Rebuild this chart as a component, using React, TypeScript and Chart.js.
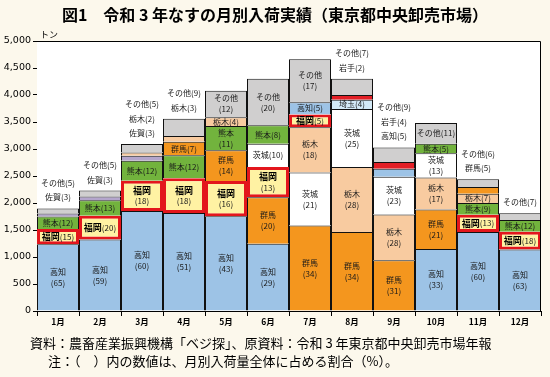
import React, { useEffect, useRef } from "react";
import { Chart, registerables } from "chart.js";

Chart.register(...registerables);

// ---- data (tonnes) ----
const months = ["1月", "2月", "3月", "4月", "5月", "6月", "7月", "8月", "9月", "10月", "11月", "12月"];
const kochi = [1235, 1322, 1854, 1816, 1754, 1247, 230, 0, 152, 1148, 1464, 1140];
const fukuoka = [285, 440, 556, 641, 653, 559, 236, 0, 0, 0, 317, 326];
const kumamoto = [228, 290, 371, 427, 449, 344, 0, 0, 0, 174, 220, 217];
const gunma = [0, 0, 0, 249, 571, 860, 1584, 1462, 939, 731, 122, 0];
const tochigi = [0, 0, 62, 107, 163, 0, 839, 1204, 848, 592, 171, 0];
const ibaraki = [0, 0, 0, 0, 0, 430, 979, 1075, 697, 452, 0, 0];
const saga = [57, 67, 93, 0, 0, 0, 0, 0, 0, 0, 0, 0];
const saitama = [0, 0, 0, 0, 0, 0, 0, 172, 0, 0, 0, 0];
const iwate = [0, 0, 0, 0, 0, 0, 0, 86, 121, 0, 0, 0];
const others = [95, 111, 155, 320, 490, 860, 792, 301, 273, 383, 146, 127];

// labels written above the bar (top to bottom)
const aboveLabels = [
  ["その他", "佐賀"],
  ["その他", "佐賀"],
  ["その他", "栃木", "佐賀"],
  ["その他", "栃木"],
  [],
  [],
  [],
  ["その他", "岩手"],
  ["その他", "岩手", "高知"],
  [],
  ["その他", "群馬"],
  ["その他"],
];

const yMax = 5000;
const yStep = 500;

const title = "図1　令和 3 年なすの月別入荷実績（東京都中央卸売市場）";
const unitLabel = "トン";
const note1 = "資料：農畜産業振興機構「ベジ探」、原資料：令和 3 年東京都中央卸売市場年報";
const note2 = "注：（　）内の数値は、月別入荷量全体に占める割合（%）。";

const prefs = [
  { name: "高知", data: kochi, color: "#9dc3e6" },
  { name: "福岡", data: fukuoka, color: "#fff2a3" },
  { name: "熊本", data: kumamoto, color: "#72b33d" },
  { name: "群馬", data: gunma, color: "#f4961e" },
  { name: "栃木", data: tochigi, color: "#f8cba0" },
  { name: "茨城", data: ibaraki, color: "#ffffff" },
  { name: "佐賀", data: saga, color: "#b4a6cc" },
  { name: "埼玉", data: saitama, color: "#d3e9f6" },
  { name: "岩手", data: iwate, color: "#e21f26" },
];
const otherColor = "#d0cfcf";
const highlight = "福岡";
const highlightBorder = "#e3161c";

type Seg = { name: string; value: number; color: string };

function segmentsFor(m: number): Seg[] {
  const list: Seg[] = prefs
    .map((p) => ({ name: p.name, value: p.data[m], color: p.color }))
    .filter((s) => s.value > 0);
  list.sort((a, b) => b.value - a.value);
  list.push({ name: "その他", value: others[m], color: otherColor });
  return list;
}

const FONT = "'Noto Sans CJK JP', 'Noto Sans', sans-serif";

export default function App() {
  const canvasRef = useRef<HTMLCanvasElement | null>(null);

  useEffect(() => {
    document.body.style.margin = "0";
    document.body.style.background = "#fcf8ec";
    const canvas = canvasRef.current;
    if (!canvas) return;

    const segs = months.map((_, m) => segmentsFor(m));
    const totals = months.map((_, m) => segs[m].reduce((a, s) => a + s.value, 0));
    const maxRank = Math.max(...segs.map((s) => s.length));

    const datasets = [] as any[];
    for (let r = 0; r < maxRank; r++) {
      datasets.push({
        label: "rank" + r,
        data: months.map((_, m) => (segs[m][r] ? segs[m][r].value : null)),
        backgroundColor: months.map((_, m) => (segs[m][r] ? segs[m][r].color : "transparent")),
        borderColor: months.map((_, m) =>
          segs[m][r] && segs[m][r].name === highlight ? highlightBorder : "#111"
        ),
        borderWidth: (ctx: any) => {
          const s = segs[ctx.dataIndex] && segs[ctx.dataIndex][r];
          if (s && s.name === highlight) return 3;
          return { top: 1, left: 1, right: 1, bottom: 0 };
        },
        borderSkipped: false,
        inflateAmount: 0,
        categoryPercentage: 1,
        barPercentage: 1,
      });
    }

    const framePlugin = {
      id: "frame",
      beforeDatasetsDraw(chart: any) {
        const { ctx, chartArea: a } = chart;
        ctx.save();
        ctx.fillStyle = "#ffffff";
        ctx.fillRect(a.left, a.top, a.right - a.left, a.bottom - a.top);
        ctx.restore();
      },
      afterDatasetsDraw(chart: any) {
        const { ctx, chartArea: a } = chart;
        ctx.save();
        ctx.strokeStyle = "#000";
        ctx.lineWidth = 1;
        ctx.beginPath();
        ctx.moveTo(a.left, Math.round(a.top) + 0.5);
        ctx.lineTo(Math.round(a.right) - 0.5, Math.round(a.top) + 0.5);
        ctx.lineTo(Math.round(a.right) - 0.5, a.bottom);
        ctx.stroke();

        ctx.textAlign = "center";
        ctx.textBaseline = "middle";
        const normalFont = `8px ${FONT}`;
        const boldFont = `bold 9px ${FONT}`;
        const txtColor = "#1a1a1a";

        const drawOneLine = (name: string, pctText: string, cx: number, cy: number) => {
          if (name === highlight) {
            ctx.font = boldFont;
            const w1 = ctx.measureText(name).width;
            ctx.font = normalFont;
            const w2 = ctx.measureText(pctText).width;
            const start = cx - (w1 + w2) / 2;
            ctx.textAlign = "left";
            ctx.font = boldFont;
            ctx.fillStyle = "#000";
            ctx.fillText(name, start, cy);
            ctx.font = normalFont;
            ctx.fillStyle = txtColor;
            ctx.fillText(pctText, start + w1, cy);
            ctx.textAlign = "center";
          } else {
            ctx.font = normalFont;
            ctx.fillStyle = txtColor;
            ctx.fillText(name + pctText, cx, cy);
          }
        };

        for (let m = 0; m < months.length; m++) {
          let barTop = Infinity;
          let cx = 0;
          segs[m].forEach((s, r) => {
            const el = chart.getDatasetMeta(r).data[m];
            if (!el) return;
            cx = el.x;
            barTop = Math.min(barTop, el.y);
            if (aboveLabels[m].includes(s.name)) return;
            const pct = Math.round((s.value / totals[m]) * 100);
            const pctText = `(${pct})`;
            const h = Math.abs(el.base - el.y);
            const cy = (el.y + el.base) / 2;
            if (h >= 24) {
              if (s.name === highlight) {
                ctx.font = boldFont;
                ctx.fillStyle = "#000";
              } else {
                ctx.font = normalFont;
                ctx.fillStyle = txtColor;
              }
              ctx.fillText(s.name, el.x, cy - 5.5);
              ctx.font = normalFont;
              ctx.fillStyle = txtColor;
              ctx.fillText(pctText, el.x, cy + 5.5);
            } else {
              drawOneLine(s.name, pctText, el.x, cy);
            }
          });
          const list = aboveLabels[m];
          const n = list.length;
          list.forEach((name, i) => {
            const s = segs[m].find((q) => q.name === name);
            if (!s) return;
            const pct = Math.round((s.value / totals[m]) * 100);
            const y = barTop - 11 - (n - 1 - i) * 14.5;
            ctx.font = normalFont;
            ctx.fillStyle = txtColor;
            ctx.fillText(`${name}(${pct})`, cx, y);
          });
        }
        ctx.restore();
      },
    };

    const chart = new Chart(canvas, {
      type: "bar",
      data: { labels: months, datasets },
      options: {
        responsive: false,
        animation: false,
        events: [],
        layout: { padding: { top: 41, right: 9, bottom: 48, left: 0 } },
        plugins: { legend: { display: false }, tooltip: { enabled: false }, title: { display: false } },
        scales: {
          x: {
            stacked: true,
            ticks: { color: "#000", font: { family: FONT, size: 8.5, weight: "bold" }, padding: 1 },
            grid: { drawOnChartArea: false, drawTicks: true, tickLength: 5, color: "#000", offset: true },
            border: { display: true, color: "#000", width: 1 },
            afterFit: (s: any) => {
              s.height = 18;
            },
          },
          y: {
            stacked: true,
            min: 0,
            max: yMax,
            ticks: {
              stepSize: yStep,
              color: "#000",
              font: { family: "'DejaVu Sans', sans-serif", size: 9.5 },
              padding: 2,
              callback: (v: any) => Number(v).toLocaleString("en-US"),
            },
            grid: { drawOnChartArea: false, drawTicks: true, tickLength: 4, color: "#000" },
            border: { display: true, color: "#000", width: 1 },
            afterFit: (s: any) => {
              s.width = 37;
            },
          },
        },
      } as any,
      plugins: [framePlugin],
    });

    return () => chart.destroy();
  }, []);

  return (
    <div style={{ position: "relative", width: 550, height: 377, background: "#fcf8ec", overflow: "hidden" }}>
      <canvas ref={canvasRef} width={550} height={377} style={{ position: "absolute", left: 0, top: 0 }} />
      <div
        style={{
          position: "absolute",
          left: 0,
          width: 550,
          top: 4,
          height: 20,
          lineHeight: "20px",
          textAlign: "center",
          fontFamily: FONT,
          fontWeight: "bold",
          fontSize: 16,
          color: "#000",
          whiteSpace: "nowrap",
        }}
      >
        {title}
      </div>
      <div
        style={{
          position: "absolute",
          left: 40,
          top: 30,
          lineHeight: "10px",
          fontFamily: FONT,
          fontSize: 9,
          color: "#000",
        }}
      >
        {unitLabel}
      </div>
      <div
        style={{
          position: "absolute",
          left: 30,
          top: 335,
          lineHeight: "16px",
          fontFamily: FONT,
          fontSize: 13,
          color: "#000",
          whiteSpace: "nowrap",
        }}
      >
        {note1}
      </div>
      <div
        style={{
          position: "absolute",
          left: 48,
          top: 353,
          lineHeight: "16px",
          fontFamily: FONT,
          fontSize: 13,
          color: "#000",
          whiteSpace: "nowrap",
        }}
      >
        {note2}
      </div>
    </div>
  );
}
